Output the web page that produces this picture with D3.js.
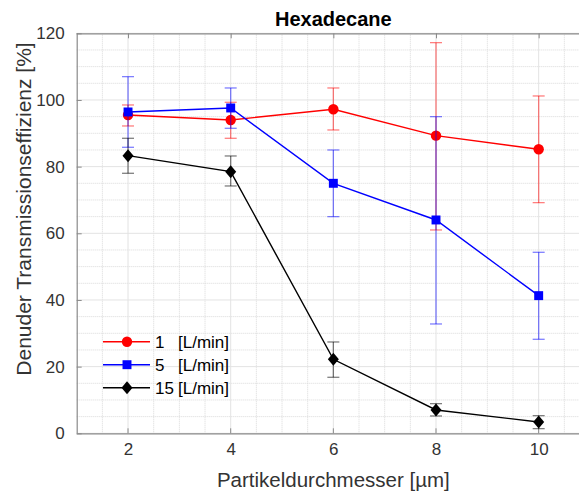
<!DOCTYPE html>
<html><head><meta charset="utf-8">
<script src="https://cdn.jsdelivr.net/npm/d3@7"></script>
<style>body{margin:0;background:#fff}svg{display:block}</style>
</head><body>
<svg id="c" width="579" height="492"></svg>
<script>
const sizes = [2, 4, 6, 8, 10];
const flow1 = [95.5, 94.0, 97.2, 89.3, 85.2];
const flow1Hi = [98.5, 99.3, 103.6, 117.2, 101.2];
const flow1Lo = [92.2, 88.5, 91.0, 61.0, 69.2];
const flow5 = [96.4, 97.6, 75.0, 64.0, 41.3];
const flow5Hi = [107.0, 103.6, 85.0, 95.0, 54.3];
const flow5Lo = [85.8, 91.5, 65.0, 32.8, 28.2];
const flow15 = [83.3, 78.5, 22.2, 7.0, 3.4];
const flow15Hi = [88.5, 83.2, 27.4, 8.9, 5.3];
const flow15Lo = [78.0, 74.2, 16.8, 5.2, 1.4];
const xTicks = [2, 4, 6, 8, 10];
const yTicks = [0, 20, 40, 60, 80, 100, 120];
const seriesNames = ["1", "5", "15"];
const unitLabel = "[L/min]";

const diamond = {
  draw(ctx, size) {
    const w = 5.5, h = 6.5;
    ctx.moveTo(0, -h); ctx.lineTo(w, 0); ctx.lineTo(0, h); ctx.lineTo(-w, 0); ctx.closePath();
  }
};

const series = [
  {name: seriesNames[0], v: flow1, hi: flow1Hi, lo: flow1Lo, color: "#ff0000", sym: d3.symbolCircle, size: 85},
  {name: seriesNames[1], v: flow5, hi: flow5Hi, lo: flow5Lo, color: "#0000ff", sym: d3.symbolSquare, size: 80},
  {name: seriesNames[2], v: flow15, hi: flow15Hi, lo: flow15Lo, color: "#000000", sym: diamond, size: 80}
];

const L = 76.7, R = 590, T = 33.3, B = 433.3;
const x = d3.scaleLinear().domain([1, 11]).range([L, R]);
const y = d3.scaleLinear().domain([0, 120]).range([B, T]);
const svg = d3.select("#c");
const font = "Arial, 'Liberation Sans', Helvetica, sans-serif";

// minor grid
const g = svg.append("g");
g.selectAll(".mx").data(d3.range(1.5, 11, 0.5).filter(v => Math.abs(v - Math.round(v / 2) * 2) > 1e-6))
  .join("line").attr("x1", d => x(d)).attr("x2", d => x(d)).attr("y1", T).attr("y2", B)
  .attr("stroke", "#d9d9d9").attr("stroke-width", 1).attr("stroke-dasharray", "1,1");
g.selectAll(".my").data(d3.range(5, 120, 5).filter(v => v % 20 !== 0))
  .join("line").attr("x1", L).attr("x2", R).attr("y1", d => y(d)).attr("y2", d => y(d))
  .attr("stroke", "#d9d9d9").attr("stroke-width", 1).attr("stroke-dasharray", "1,1");
// major grid
g.selectAll(".Mx").data(xTicks).join("line").attr("x1", d => x(d)).attr("x2", d => x(d)).attr("y1", T).attr("y2", B)
  .attr("stroke", "#e3e3e3").attr("stroke-width", 1);
g.selectAll(".My").data(yTicks).join("line").attr("x1", L).attr("x2", R).attr("y1", d => y(d)).attr("y2", d => y(d))
  .attr("stroke", "#e3e3e3").attr("stroke-width", 1);

// axes
const axCol = "#8a8a8a";
const xb = svg.append("g").attr("transform", `translate(0,${B})`)
  .call(d3.axisBottom(x).tickValues(xTicks).tickSize(0).tickPadding(10).tickFormat(d3.format("d")));
const xt = svg.append("g").attr("transform", `translate(0,${T})`)
  .call(d3.axisTop(x).tickValues(xTicks).tickSize(-5).tickFormat(""));
const yl = svg.append("g").attr("transform", `translate(${L},0)`)
  .call(d3.axisLeft(y).tickValues(yTicks).tickSize(-5).tickPadding(12).tickFormat(d3.format("d")));
svg.append("g").selectAll("line").data(xTicks).join("line")
  .attr("x1", d => x(d)).attr("x2", d => x(d)).attr("y1", B).attr("y2", B - 5).attr("stroke", axCol);
[xb, xt, yl].forEach(a => {
  a.select(".domain").attr("stroke", axCol).attr("stroke-width", 1.2);
  a.selectAll(".tick line").attr("stroke", axCol);
  a.selectAll("text").attr("font-family", font).attr("font-size", 17).attr("fill", "#333");
});
xb.selectAll(".domain").attr("d", `M${L},0.5H${R}`);
yl.selectAll(".domain").attr("d", `M0.5,${B}V${T}`);
xt.selectAll(".domain").attr("d", `M${L},0.5H${R}`);

// series
series.forEach(s => {
  const sg = svg.append("g");
  const pts = sizes.map((d, i) => ({x: d, v: s.v[i], hi: s.hi[i], lo: s.lo[i]}));
  sg.selectAll(".eb").data(pts).join("line").attr("x1", d => x(d.x)).attr("x2", d => x(d.x))
    .attr("y1", d => y(d.lo)).attr("y2", d => y(d.hi)).attr("stroke", s.color).attr("stroke-opacity", 0.5).attr("stroke-width", 1.3);
  ["hi", "lo"].forEach(k => {
    sg.selectAll(".c" + k).data(pts).join("line").attr("x1", d => x(d.x) - 6).attr("x2", d => x(d.x) + 6)
      .attr("y1", d => y(d[k])).attr("y2", d => y(d[k])).attr("stroke", s.color).attr("stroke-opacity", 0.5).attr("stroke-width", 1.3);
  });
  sg.append("path").datum(pts).attr("d", d3.line().x(d => x(d.x)).y(d => y(d.v)))
    .attr("fill", "none").attr("stroke", s.color).attr("stroke-width", 1.4);
  sg.selectAll(".m").data(pts).join("path").attr("d", d3.symbol().type(s.sym).size(s.size))
    .attr("transform", d => `translate(${x(d.x)},${y(d.v)})`).attr("fill", s.color);
});

// title and labels
svg.append("text").attr("x", (L + R) / 2).attr("y", 26).attr("text-anchor", "middle")
  .attr("font-family", font).attr("font-weight", "bold").attr("font-size", 20).attr("fill", "#000").text("Hexadecane");
svg.append("text").attr("x", (L + R) / 2).attr("y", 487).attr("text-anchor", "middle")
  .attr("font-family", font).attr("font-size", 20.5).attr("fill", "#333").text("Partikeldurchmesser [µm]");
svg.append("text").attr("transform", `translate(31,209) rotate(-90)`).attr("text-anchor", "middle")
  .attr("font-family", font).attr("font-size", 21).attr("fill", "#333").text("Denuder Transmissionseffizienz [%]");

// legend
const lg = svg.append("g");
series.forEach((s, i) => {
  const yy = 341.7 + i * 23;
  lg.append("line").attr("x1", 103).attr("x2", 150).attr("y1", yy).attr("y2", yy).attr("stroke", s.color).attr("stroke-width", 1.4);
  lg.append("path").attr("d", d3.symbol().type(s.sym).size(s.size)).attr("transform", `translate(127,${yy})`).attr("fill", s.color);
  const t = lg.append("text").attr("y", yy + 6).attr("font-family", font).attr("font-size", 17).attr("fill", "#000");
  t.append("tspan").attr("x", 155).text(s.name);
  t.append("tspan").attr("x", 178).text(unitLabel);
});
</script>
</body></html>
